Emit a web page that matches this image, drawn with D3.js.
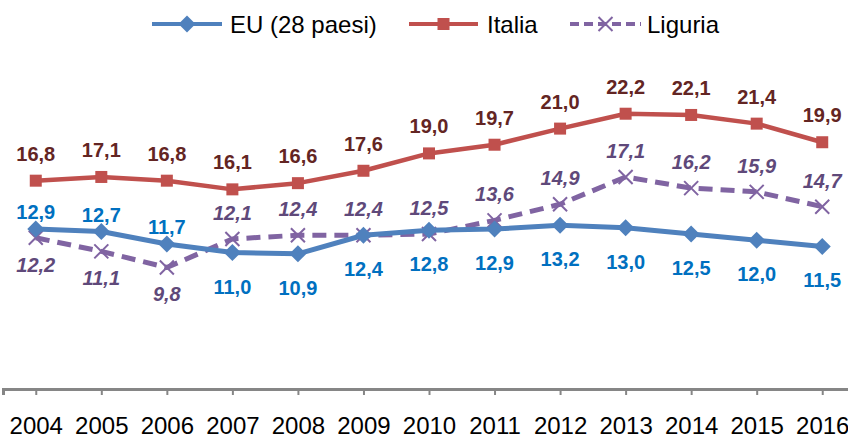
<!DOCTYPE html>
<html>
<head>
<meta charset="utf-8">
<script src="https://cdn.jsdelivr.net/npm/d3@7"></script>
<style>
  html, body { margin: 0; padding: 0; background: #fff; }
  svg { display: block; font-family: "Liberation Sans", Arial, sans-serif; }
</style>
</head>
<body>
<svg id="chart" width="848" height="439"></svg>
<script>
const years = ["2004","2005","2006","2007","2008","2009","2010","2011","2012","2013","2014","2015","2016"];
const euValues = [12.9, 12.7, 11.7, 11.0, 10.9, 12.4, 12.8, 12.9, 13.2, 13.0, 12.5, 12.0, 11.5];
const italiaValues = [16.8, 17.1, 16.8, 16.1, 16.6, 17.6, 19.0, 19.7, 21.0, 22.2, 22.1, 21.4, 19.9];
const liguriaValues = [12.2, 11.1, 9.8, 12.1, 12.4, 12.4, 12.5, 13.6, 14.9, 17.1, 16.2, 15.9, 14.7];
const seriesNames = ["EU (28 paesi)", "Italia", "Liguria"];

const W = 848, H = 439;
const svg = d3.select("#chart");
const fmt = v => v.toFixed(1).replace(".", ",");

const x = d3.scalePoint().domain(years).range([3, 855]).padding(0.5);
const y = d3.scaleLinear().domain([0, 30]).range([389, 17]);

// axis
const axisG = svg.append("g").attr("transform", "translate(0,389)")
  .call(d3.axisBottom(x).tickSizeOuter(0).tickSize(6));
axisG.select(".domain").attr("stroke", "#868686").attr("stroke-width", 3);
axisG.selectAll(".tick line").attr("stroke", "#868686").attr("stroke-width", 2).attr("y1", 1);
axisG.selectAll(".tick text").attr("y", 45).attr("dy", 0)
  .attr("font-size", 24).attr("fill", "#000").attr("font-family", "'Liberation Sans', Arial, sans-serif");

const series = [
  { name: seriesNames[0], values: euValues, color: "#4f81bd", label: "#0070c0", marker: "diamond", dash: null, width: 5, italic: false,
    dy: (i) => i < 3 ? -10 : 41 },
  { name: seriesNames[1], values: italiaValues, color: "#c0504d", label: "#632523", marker: "square", dash: null, width: 4.5, italic: false,
    dy: (i) => -20 },
  { name: seriesNames[2], values: liguriaValues, color: "#8064a2", label: "#5f497a", marker: "x", dash: "14,8", width: 5, italic: true,
    dy: (i) => i < 3 ? 34 : -19 }
];

function drawMarker(g, type, cx, cy, color) {
  if (type === "diamond") {
    g.append("path").attr("d", `M${cx},${cy-8.5}L${cx+8.5},${cy}L${cx},${cy+8.5}L${cx-8.5},${cy}Z`).attr("fill", color);
  } else if (type === "square") {
    g.append("rect").attr("x", cx-6).attr("y", cy-6).attr("width", 12).attr("height", 12).attr("fill", color);
  } else {
    g.append("path").attr("d", `M${cx-7},${cy-7}L${cx+7},${cy+7}M${cx-7},${cy+7}L${cx+7},${cy-7}`)
      .attr("stroke", color).attr("stroke-width", 2).attr("fill", "none");
  }
}

const line = d3.line().x((d, i) => x(years[i])).y(d => y(d));

const order = [2, 0, 1];
order.forEach(si => {
  const s = series[si];
  const g = svg.append("g");
  g.append("path").datum(s.values).attr("d", line).attr("fill", "none")
    .attr("stroke", s.color).attr("stroke-width", s.width)
    .attr("stroke-linejoin", "round")
    .attr("stroke-dasharray", s.dash);
  s.values.forEach((v, i) => drawMarker(g, s.marker, x(years[i]), y(v), s.color));
});

// labels
series.forEach(s => {
  svg.append("g").selectAll("text").data(s.values).join("text")
    .attr("x", (d, i) => x(years[i]))
    .attr("y", (d, i) => y(d) + s.dy(i))
    .attr("text-anchor", "middle")
    .attr("font-size", 20).attr("font-weight", "bold")
    .attr("font-style", s.italic ? "italic" : "normal")
    .attr("fill", s.label)
    .text(d => fmt(d));
});

// legend
const legendItems = [
  { s: series[0], x1: 152, x2: 222, tx: 230 },
  { s: series[1], x1: 409, x2: 478, tx: 487 },
  { s: series[2], x1: 570, x2: 641, tx: 647 }
];
const lg = svg.append("g");
legendItems.forEach(it => {
  const g = lg.append("g");
  g.append("line").attr("x1", it.x1).attr("x2", it.x2).attr("y1", 24).attr("y2", 24)
    .attr("stroke", it.s.color).attr("stroke-width", 4)
    .attr("stroke-dasharray", it.s.dash ? "9,5" : null);
  drawMarker(g, it.s.marker, (it.x1 + it.x2) / 2, 24, it.s.color);
  g.append("text").attr("x", it.tx).attr("y", 33).attr("font-size", 24).attr("fill", "#000").text(it.s.name);
});
</script>
</body>
</html>
